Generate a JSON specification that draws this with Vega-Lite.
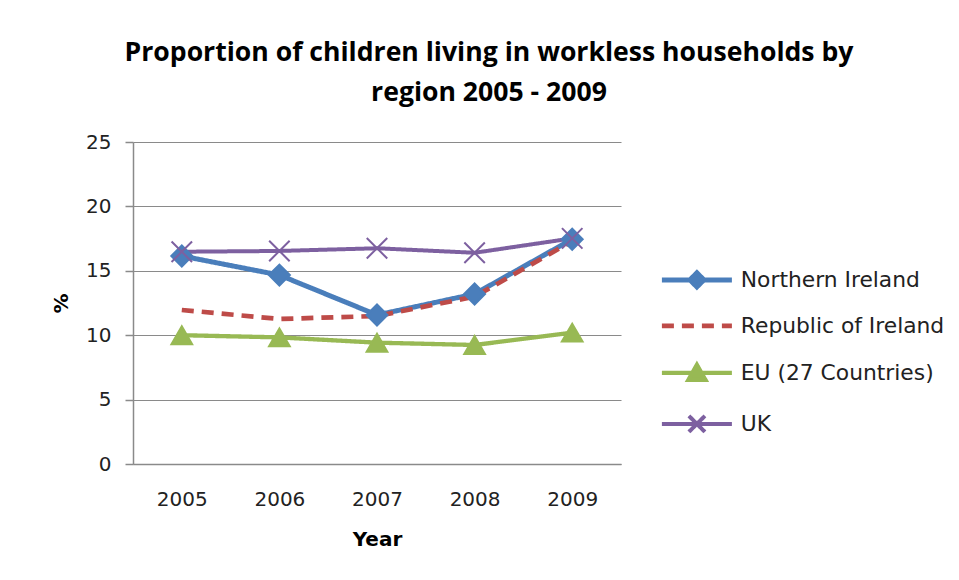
{
  "$schema": "https://vega.github.io/schema/vega-lite/v6.json",
  "autosize": "none",
  "width": 488,
  "height": 322,
  "padding": {"left": 133, "top": 142, "right": 338, "bottom": 116},
  "background": "white",
  "title": {
    "text": ["Proportion of children living in workless households by", "region 2005 - 2009"],
    "font": "Open Sans",
    "fontSize": 26.6,
    "fontWeight": "bold",
    "color": "#000000",
    "lineHeight": 40,
    "anchor": "middle",
    "dx": 112,
    "offset": 25
  },
  "config": {
    "view": {"stroke": null},
    "axis": {"labelFont": "DejaVu Sans", "labelFontSize": 20, "labelColor": "#222222", "titleFont": "DejaVu Sans", "titleFontSize": 20, "titleColor": "#000000", "titleFontWeight": "bold", "domainColor": "#8a8a8a", "tickColor": "#8a8a8a", "gridColor": "#8a8a8a"},
    "legend": {"labelFont": "DejaVu Sans", "labelFontSize": 21.8, "labelColor": "#222222", "labelLimit": 400}
  },
  "data": {
    "values": [
      {"Year": "2005", "Region": "Northern Ireland", "Value": 16.15},
      {"Year": "2006", "Region": "Northern Ireland", "Value": 14.67},
      {"Year": "2007", "Region": "Northern Ireland", "Value": 11.57},
      {"Year": "2008", "Region": "Northern Ireland", "Value": 13.2},
      {"Year": "2009", "Region": "Northern Ireland", "Value": 17.45},
      {"Year": "2005", "Region": "Republic of Ireland", "Value": 11.96},
      {"Year": "2006", "Region": "Republic of Ireland", "Value": 11.26},
      {"Year": "2007", "Region": "Republic of Ireland", "Value": 11.49},
      {"Year": "2008", "Region": "Republic of Ireland", "Value": 12.99},
      {"Year": "2009", "Region": "Republic of Ireland", "Value": 17.3},
      {"Year": "2005", "Region": "EU (27 Countries)", "Value": 10.0},
      {"Year": "2006", "Region": "EU (27 Countries)", "Value": 9.83},
      {"Year": "2007", "Region": "EU (27 Countries)", "Value": 9.42},
      {"Year": "2008", "Region": "EU (27 Countries)", "Value": 9.24},
      {"Year": "2009", "Region": "EU (27 Countries)", "Value": 10.2},
      {"Year": "2005", "Region": "UK", "Value": 16.48},
      {"Year": "2006", "Region": "UK", "Value": 16.54},
      {"Year": "2007", "Region": "UK", "Value": 16.75},
      {"Year": "2008", "Region": "UK", "Value": 16.4},
      {"Year": "2009", "Region": "UK", "Value": 17.52}
    ]
  },
  "encoding": {
    "x": {"field": "Year", "type": "ordinal", "scale": {"type": "point", "padding": 0.5},
      "axis": {"title": "Year", "labelAngle": 0, "ticks": false, "labelPadding": 25, "titlePadding": 20, "domainWidth": 1.5}},
    "y": {"field": "Value", "type": "quantitative", "scale": {"domain": [0, 25]},
      "axis": {"title": "%", "values": [0, 5, 10, 15, 20, 25], "tickSize": 8, "labelPadding": 14, "titlePadding": 14, "titleAngle": -90, "domainWidth": 1.5, "tickWidth": 1.5, "gridWidth": 1.2}},
    "color": {"field": "Region", "type": "nominal",
      "scale": {"domain": ["Northern Ireland", "Republic of Ireland", "EU (27 Countries)", "UK"], "range": ["#4a7ebb", "#be4b48", "#98b954", "#7d60a0"]},
      "legend": {
        "orient": "none", "legendX": 523, "legendY": 127, "title": null,
        "symbolSize": 100, "symbolOffset": 30, "labelOffset": 33, "rowPadding": 18,
        "encode": {"symbols": {"update": {
          "shape": {"signal": "datum.value === 'Northern Ireland' ? 'M-7,0L7,0M0,-1.4L1.4,0L0,1.4L-1.4,0Z' : datum.value === 'EU (27 Countries)' ? 'M-7,0L7,0M0,-1.6L1.7,1.4L-1.7,1.4Z' : datum.value === 'UK' ? 'M-7,0L7,0M-1.6,-1.6L1.6,1.6M1.6,-1.6L-1.6,1.6' : 'M-7,0L7,0'"},
          "strokeDash": {"signal": "datum.value === 'Republic of Ireland' ? [8, 5] : [1, 0]"},
          "fill": {"scale": "color", "field": "value"},
          "stroke": {"scale": "color", "field": "value"},
          "strokeWidth": {"value": 4.5},
          "size": {"value": 100},
          "opacity": {"value": 1}
        }}}
      }
    }
  },
  "layer": [
    {
      "mark": {"type": "line", "strokeJoin": "round"},
      "encoding": {
        "strokeDash": {"field": "Region", "type": "nominal", "legend": null,
          "scale": {"domain": ["Northern Ireland", "Republic of Ireland", "EU (27 Countries)", "UK"], "range": [[1, 0], [12, 8], [1, 0], [1, 0]]}},
        "strokeWidth": {"field": "Region", "type": "nominal", "legend": null,
          "scale": {"domain": ["Northern Ireland", "Republic of Ireland", "EU (27 Countries)", "UK"], "range": [5, 4, 5, 5]}}
      }
    },
    {
      "transform": [{"filter": "datum.Region !== 'Republic of Ireland'"}],
      "mark": {"type": "point", "filled": true, "opacity": 1, "strokeWidth": 2},
      "encoding": {
        "shape": {"field": "Region", "type": "nominal", "legend": null,
          "scale": {"domain": ["Northern Ireland", "EU (27 Countries)", "UK"], "range": ["diamond", "triangle-up", "M-1,-1L1,1M1,-1L-1,1"]}},
        "size": {"field": "Region", "type": "nominal", "legend": null,
          "scale": {"domain": ["Northern Ireland", "EU (27 Countries)", "UK"], "range": [440, 420, 420]}},
        "fill": {"field": "Region", "type": "nominal", "legend": null,
          "scale": {"domain": ["Northern Ireland", "EU (27 Countries)", "UK"], "range": ["#4a7ebb", "#98b954", "transparent"]}},
        "stroke": {"field": "Region", "type": "nominal", "legend": null,
          "scale": {"domain": ["Northern Ireland", "EU (27 Countries)", "UK"], "range": ["#4a7ebb", "#98b954", "#7d60a0"]}}
      }
    }
  ]
}
